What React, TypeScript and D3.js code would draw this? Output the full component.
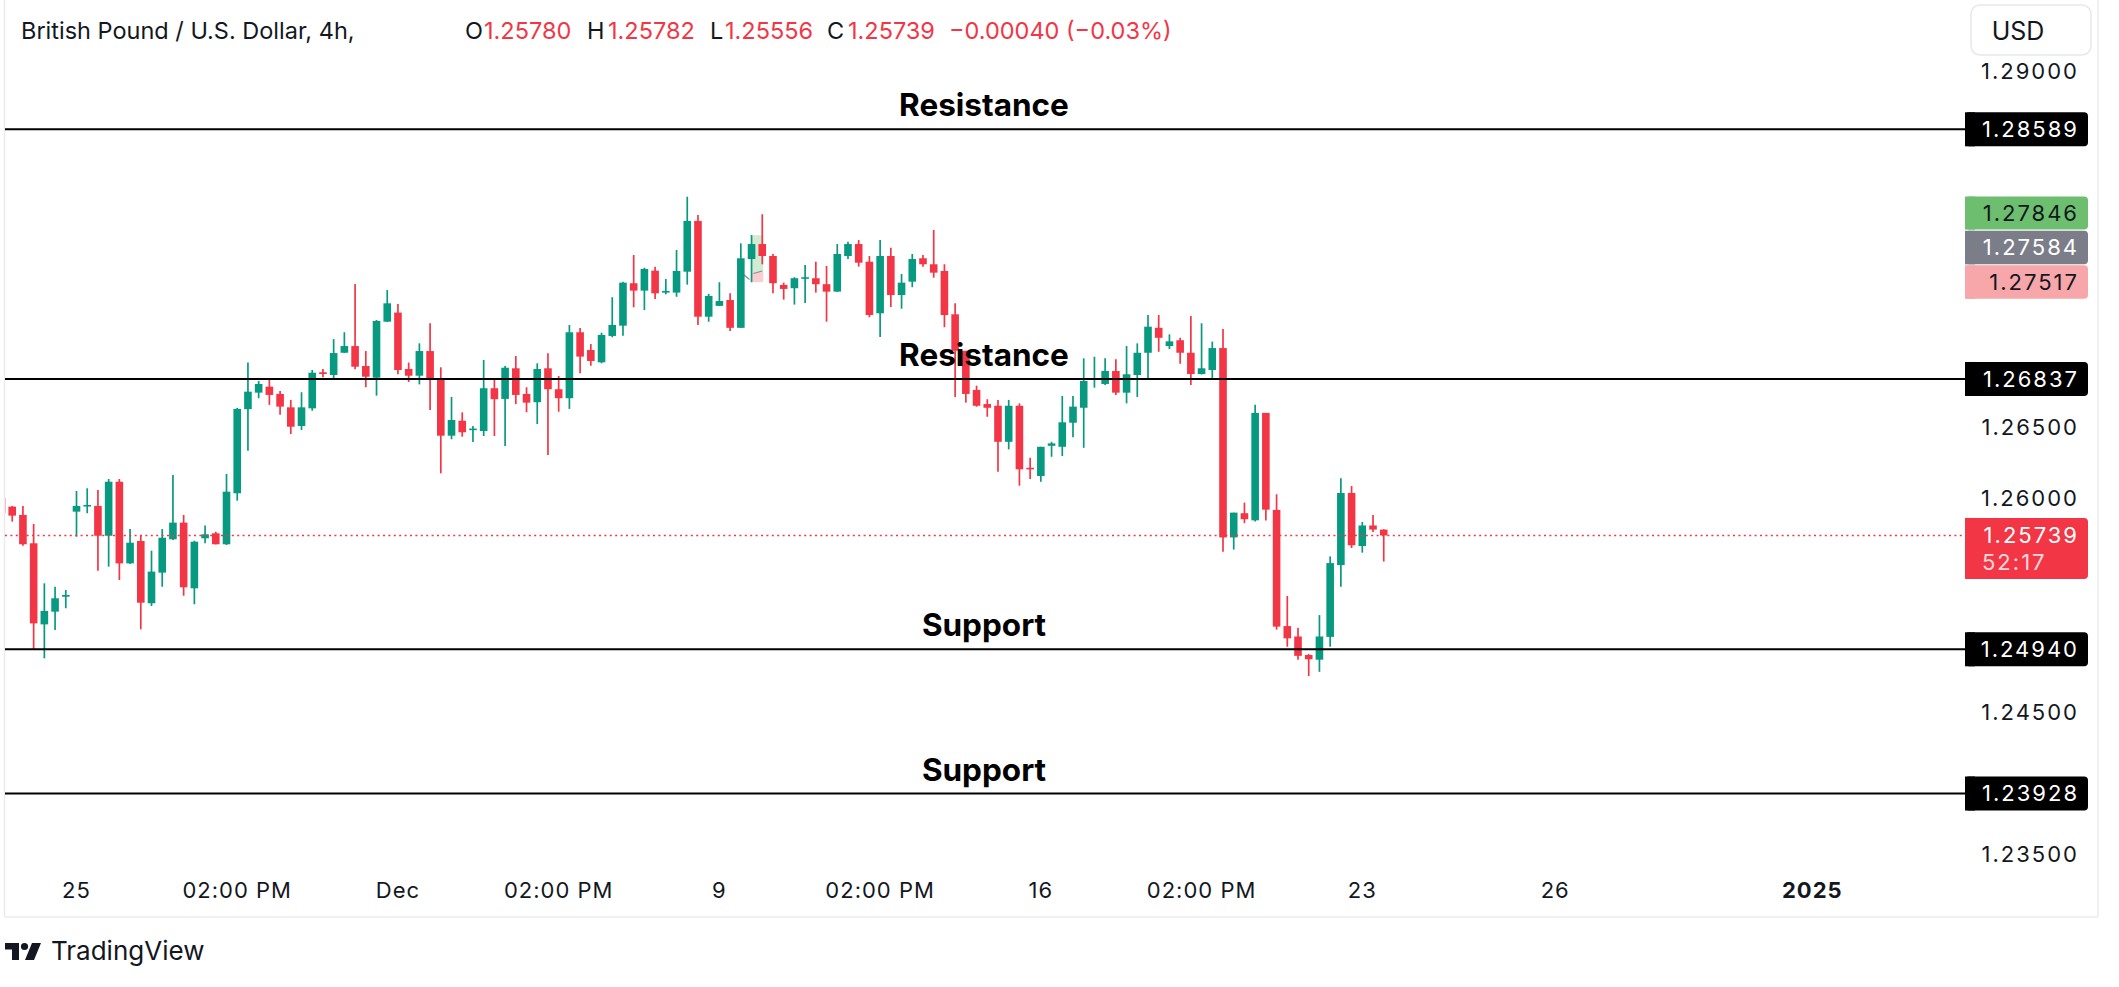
import React from 'react'
import * as d3 from 'd3'

// GBP/USD 4h candles, first candle index is -7 (index 0 = first bar of Nov 25)
const firstIndex = -7
const opens = [
  1.26002, 1.25941, 1.25883, 1.25684, 1.25115, 1.25204, 1.25309,
  1.25906, 1.25946, 1.25946, 1.25737, 1.26116, 1.25543, 1.257, 1.25263, 1.25478, 1.25712,
  1.25829, 1.25368, 1.25719, 1.25754, 1.25677, 1.26035, 1.26625, 1.26741, 1.26783, 1.26732,
  1.26638, 1.26507, 1.26631, 1.26884, 1.26865, 1.27021, 1.27068, 1.26928, 1.26846, 1.27239,
  1.27303, 1.26907, 1.2686, 1.27033, 1.26839, 1.26439, 1.26544, 1.26479, 1.26472, 1.26772,
  1.26697, 1.26912, 1.26732, 1.26674, 1.26912, 1.26765, 1.26702, 1.27165, 1.2704, 1.26954,
  1.27139, 1.27211, 1.27509, 1.27457, 1.27597, 1.27443, 1.27443, 1.2759, 1.27946, 1.27274,
  1.2735, 1.27391, 1.27196, 1.27679, 1.27784, 1.277, 1.27497, 1.27474, 1.27541, 1.27544,
  1.27502, 1.2745, 1.277, 1.27784, 1.2766, 1.27298, 1.277, 1.27426, 1.2752, 1.27684,
  1.27642, 1.27595, 1.27291, 1.27035, 1.2676, 1.26661, 1.26649, 1.26396, 1.26649, 1.26214,
  1.26156, 1.26368, 1.26361, 1.2653, 1.26635, 1.26835, 1.26802, 1.26893, 1.26741, 1.26865,
  1.27021, 1.27196, 1.27068, 1.27109, 1.27021, 1.26872, 1.269, 1.27054, 1.25725, 1.25895,
  1.25845, 1.26599, 1.25918, 1.25103, 1.2503, 1.249, 1.24867, 1.25027, 1.25531, 1.26037,
  1.25665, 1.25809, 1.2578,
]
const highs = [
  1.26023, 1.25946, 1.25946, 1.2582, 1.25403, 1.25379, 1.25356,
  1.26051, 1.2607, 1.26058, 1.26135, 1.26135, 1.25784, 1.25735, 1.25632, 1.25784, 1.26163,
  1.25883, 1.25702, 1.25808, 1.25765, 1.26171, 1.26634, 1.26952, 1.26823, 1.2683, 1.26753,
  1.2669, 1.26744, 1.269, 1.26907, 1.27117, 1.27165, 1.27503, 1.27033, 1.27251, 1.27461,
  1.27363, 1.26952, 1.27087, 1.27228, 1.26919, 1.26711, 1.26603, 1.26507, 1.2697, 1.2683,
  1.26928, 1.26998, 1.26779, 1.26947, 1.27017, 1.26858, 1.27216, 1.27195, 1.27082, 1.27162,
  1.27411, 1.2752, 1.27707, 1.27618, 1.27625, 1.27539, 1.27742, 1.28116, 1.27988, 1.27434,
  1.27516, 1.27439, 1.27789, 1.27847, 1.27993, 1.27714, 1.27513, 1.27551, 1.27637, 1.2766,
  1.2763, 1.27784, 1.278, 1.27812, 1.277, 1.27812, 1.27758, 1.27574, 1.27714, 1.27707,
  1.27883, 1.27642, 1.27368, 1.27035, 1.2679, 1.26695, 1.2669, 1.2669, 1.26666, 1.26284,
  1.26361, 1.26396, 1.26718, 1.26718, 1.26982, 1.26993, 1.26982, 1.26975, 1.27068, 1.27087,
  1.27286, 1.27286, 1.2715, 1.27126, 1.27279, 1.27228, 1.27099, 1.27188, 1.25899, 1.25969,
  1.26657, 1.26599, 1.26028, 1.25314, 1.25092, 1.24907, 1.2518, 1.25592, 1.2614, 1.26086,
  1.25834, 1.25883, 1.25782,
]
const lows = [
  1.25883, 1.25836, 1.25667, 1.24935, 1.24877, 1.25076, 1.25228,
  1.2573, 1.25895, 1.25492, 1.2552, 1.25426, 1.25539, 1.2508, 1.25244, 1.25379, 1.25707,
  1.25316, 1.25256, 1.25684, 1.25676, 1.25672, 1.25983, 1.26333, 1.26702, 1.26655, 1.26586,
  1.26451, 1.26479, 1.26614, 1.26849, 1.26842, 1.27019, 1.26905, 1.26779, 1.2672, 1.27237,
  1.2687, 1.26816, 1.26799, 1.2662, 1.26175, 1.26414, 1.26432, 1.26395, 1.26437, 1.26437,
  1.26367, 1.2666, 1.26603, 1.26521, 1.26303, 1.26607, 1.26627, 1.26877, 1.2693, 1.26947,
  1.2713, 1.27141, 1.2734, 1.27321, 1.27398, 1.27431, 1.27414, 1.27499, 1.27216, 1.27239,
  1.27349, 1.27173, 1.27195, 1.27516, 1.27642, 1.27439, 1.27394, 1.27359, 1.2737, 1.27443,
  1.27239, 1.27448, 1.27679, 1.27625, 1.2727, 1.27131, 1.27342, 1.2733, 1.27481, 1.27625,
  1.27548, 1.272, 1.26711, 1.26671, 1.26642, 1.26572, 1.26186, 1.26343, 1.26088, 1.26135,
  1.26116, 1.26291, 1.26296, 1.26428, 1.26354, 1.26776, 1.26795, 1.26725, 1.26666, 1.26711,
  1.26842, 1.27028, 1.27047, 1.26944, 1.26795, 1.26868, 1.26835, 1.25625, 1.2564, 1.25825,
  1.25836, 1.25843, 1.25078, 1.24958, 1.24867, 1.24752, 1.24782, 1.24958, 1.25379, 1.25651,
  1.25618, 1.25763, 1.25556,
]
const closes = [
  1.25897, 1.25878, 1.25677, 1.25122, 1.25209, 1.25298, 1.25321,
  1.25946, 1.25953, 1.25737, 1.26116, 1.25543, 1.25688, 1.25267, 1.25485, 1.25723, 1.25829,
  1.25375, 1.25695, 1.25747, 1.25677, 1.26046, 1.26627, 1.26748, 1.26802, 1.26725, 1.26643,
  1.26502, 1.26638, 1.26881, 1.26872, 1.27019, 1.27068, 1.26923, 1.26853, 1.27244, 1.27368,
  1.269, 1.2686, 1.27033, 1.26837, 1.26439, 1.26549, 1.26463, 1.26489, 1.26772, 1.26695,
  1.26916, 1.26725, 1.26671, 1.26907, 1.26765, 1.26702, 1.27165, 1.26994, 1.26963, 1.27146,
  1.27216, 1.27513, 1.27457, 1.27609, 1.27438, 1.27455, 1.27595, 1.27946, 1.27274, 1.2742,
  1.27384, 1.27196, 1.27684, 1.27784, 1.277, 1.27509, 1.27469, 1.27544, 1.27551, 1.27502,
  1.2745, 1.27714, 1.27784, 1.27653, 1.27286, 1.277, 1.27426, 1.27513, 1.27679, 1.27642,
  1.27583, 1.27286, 1.27035, 1.26732, 1.26649, 1.26635, 1.26396, 1.26649, 1.26203, 1.26203,
  1.26361, 1.26385, 1.26533, 1.26643, 1.26823, 1.26842, 1.26893, 1.26741, 1.2687, 1.27021,
  1.27204, 1.27126, 1.27101, 1.27021, 1.26872, 1.26912, 1.27054, 1.25725, 1.25899, 1.25853,
  1.26599, 1.2592, 1.25099, 1.25017, 1.24894, 1.2487, 1.2503, 1.25545, 1.26037, 1.2567,
  1.25809, 1.2578, 1.25739,
]

const priceTicks = [1.29, 1.285, 1.28, 1.275, 1.27, 1.265, 1.26, 1.255, 1.25, 1.245, 1.24, 1.235]
const timeTickIndex = [0, 15, 30, 45, 60, 75, 90, 105, 120, 138, 162]
const timeTickLabels = ['25', '02:00 PM', 'Dec', '02:00 PM', '9', '02:00 PM', '16', '02:00 PM', '23', '26', '2025']

const levelPrices = [1.28589, 1.26837, 1.2494, 1.23928]
const levelNames = ['Resistance', 'Resistance', 'Support', 'Support']

// long position drawing: target, entry, stop
const positionIndex = 63
const positionPrices = [1.27846, 1.27584, 1.27517]

const lastPrice = 1.25739
const countdown = '52:17'
const legendKeys = ['O', 'H', 'L', 'C']
const legendValues = ['1.25780', '1.25782', '1.25556', '1.25739']
const legendChange = '\u22120.00040 (\u22120.03%)'

const GREEN = '#089981'
const RED = '#F23645'
const INK = '#131722'
const FONT = "Inter, 'Noto Sans', sans-serif"

const App = () => {
  const width = 2119
  const height = 987
  const plotLeft = 5
  const plotRight = 1965
  const plotBottom = 870
  const axisX = 2079

  const x = d3.scaleLinear().domain([0, 120]).range([76.5, 1362.3])
  const y = d3.scaleLinear().domain([1.235, 1.29]).range([854.5, 70.75])

  const candles = opens.map((o, k) => ({ i: firstIndex + k, o, h: highs[k], l: lows[k], c: closes[k] }))
  const bodyW = 7.6

  // stacked labels of the position tool (pushed apart like TradingView does)
  const posColors = ['#6DBF6F', '#7B7E89', '#F7A6A9']
  const posText = [INK, '#FFFFFF', INK]
  const boxH = 34
  const posCenters: number[] = []
  for (let k = positionPrices.length - 1; k >= 0; k--) {
    let c = y(positionPrices[k])
    if (k < positionPrices.length - 1) c = Math.min(c, posCenters[k + 1] - boxH - 0.5)
    posCenters[k] = c
  }

  // boxes on the price scale; plain tick labels hidden underneath them are skipped
  const lastBoxCenter = y(lastPrice) + 13
  const boxSpans = [
    ...levelPrices.map((p) => [y(p), boxH]),
    ...posCenters.map((c) => [c, boxH]),
    [lastBoxCenter, 61],
  ]
  const visibleTicks = priceTicks.filter((p) =>
    boxSpans.every(([c, h]) => Math.abs(y(p) - c) > h / 2 + 8))

  const fmt = (p: number) => p.toFixed(5)

  const axisBox = (cy: number, fill: string, key: string, h = boxH) => (
    <g key={key}>
      <rect x={plotRight} y={cy - h / 2} width={123} height={h} rx={4} fill={fill} />
      <rect x={plotRight} y={cy - h / 2} width={10} height={h} fill={fill} />
    </g>
  )

  const priceTextStyle = { fontFamily: FONT, fontSize: 22, letterSpacing: 2 }

  return (
    <svg width={width} height={height} style={{ position: 'absolute', left: 0, top: 0, background: '#fff' }}>
      <defs>
        <clipPath id="plot">
          <rect x={plotLeft} y={0} width={plotRight - plotLeft} height={plotBottom} />
        </clipPath>
      </defs>
      <rect x={0} y={0} width={width} height={height} fill="#fff" />

      {/* frame */}
      <line x1={4.5} x2={4.5} y1={0} y2={917} stroke="#E9EBF0" strokeWidth={1.5} />
      <line x1={4.5} x2={2098} y1={917} y2={917} stroke="#E9EBF0" strokeWidth={1.5} />
      <line x1={2098} x2={2098} y1={0} y2={917} stroke="#EEF0F4" strokeWidth={2} />

      {/* price tick labels */}
      {visibleTicks.map((p) => (
        <text key={p} x={axisX} y={y(p)} dy="0.36em" textAnchor="end" fill={INK} style={priceTextStyle}>
          {fmt(p)}
        </text>
      ))}

      <g clipPath="url(#plot)">
        {/* position tool */}
        <rect x={x(positionIndex) - 0.5} width={x(positionIndex + 1) - x(positionIndex) + 1.5}
          y={y(positionPrices[0])} height={y(positionPrices[1]) - y(positionPrices[0])} fill="rgba(76,175,80,0.25)" />
        <rect x={x(positionIndex) - 0.5} width={x(positionIndex + 1) - x(positionIndex) + 1.5}
          y={y(positionPrices[1])} height={y(positionPrices[2]) - y(positionPrices[1])} fill="rgba(242,54,69,0.25)" />
        <polyline points={`${x(positionIndex) - 8},${y(positionPrices[1]) + 2} ${x(positionIndex) - 2},${y(positionPrices[1]) + 7}`}
          fill="none" stroke="#8A8D96" strokeWidth={1.2} />
        <polyline points={`${x(positionIndex) + 2},${y(positionPrices[1]) + 1} ${x(positionIndex + 1)},${y(positionPrices[1]) - 1.5}`}
          fill="none" stroke="#8A8D96" strokeWidth={1.2} />

        {/* candles */}
        {candles.map((d) => {
          const col = d.c >= d.o ? GREEN : RED
          const cx = x(d.i)
          const top = y(Math.max(d.o, d.c))
          const bot = y(Math.min(d.o, d.c))
          return (
            <g key={d.i}>
              <line x1={cx} x2={cx} y1={y(d.h)} y2={y(d.l)} stroke={col} strokeWidth={1.7} />
              <rect x={cx - bodyW / 2} width={bodyW} y={top} height={Math.max(1.6, bot - top)} fill={col} />
            </g>
          )
        })}

        {/* last price line */}
        <line x1={plotLeft} x2={plotRight} y1={y(lastPrice)} y2={y(lastPrice)} stroke={RED}
          strokeWidth={1.5} strokeDasharray="2 3.4" />

        {/* support / resistance */}
        {levelPrices.map((p, k) => (
          <g key={'lv' + k}>
            <line x1={plotLeft} x2={plotRight} y1={y(p)} y2={y(p)} stroke="#000" strokeWidth={2} />
            <text x={984} y={y(p) - 13} textAnchor="middle" fill="#000"
              style={{ fontFamily: FONT, fontSize: 31.5, fontWeight: 700 }}>
              {levelNames[k]}
            </text>
          </g>
        ))}
      </g>

      {/* axis boxes for levels */}
      {levelPrices.map((p, k) => (
        <g key={'lb' + k}>
          {axisBox(y(p), '#000', 'b' + k)}
          <text x={axisX} y={y(p)} dy="0.36em" textAnchor="end" fill="#fff" style={priceTextStyle}>{fmt(p)}</text>
        </g>
      ))}

      {/* position tool boxes */}
      {positionPrices.map((p, k) => (
        <g key={'pb' + k}>
          {axisBox(posCenters[k], posColors[k], 'p' + k, k === 0 ? 33 : 33.5)}
          <text x={axisX} y={posCenters[k]} dy="0.36em" textAnchor="end" fill={posText[k]} style={priceTextStyle}>{fmt(p)}</text>
        </g>
      ))}

      {/* last price box */}
      {axisBox(lastBoxCenter, RED, 'last', 61)}
      <text x={axisX} y={y(lastPrice)} dy="0.36em" textAnchor="end" fill="#fff" style={priceTextStyle}>{fmt(lastPrice)}</text>
      <text x={1982} y={y(lastPrice) + 27} dy="0.36em" textAnchor="start" fill="#FDD9DC" style={priceTextStyle}>{countdown}</text>

      {/* currency button */}
      <rect x={1971} y={5} width={120} height={50} rx={9} fill="#fff" stroke="#E6E8EE" strokeWidth={1.5} />
      <text x={2018} y={39.5} textAnchor="middle" fill={INK} style={{ fontFamily: FONT, fontSize: 25 }}>USD</text>

      {/* time axis */}
      {timeTickIndex.map((i, k) => (
        <text key={'t' + k} x={x(i)} y={898} textAnchor="middle" fill={INK}
          style={{ fontFamily: FONT, fontSize: 22, letterSpacing: 1,
            fontWeight: timeTickLabels[k] === '2025' ? 700 : 400 }}>
          {timeTickLabels[k]}
        </text>
      ))}

      {/* legend */}
      <g style={{ fontFamily: FONT, fontSize: 23.5 }}>
        <text x={21} y={39} fill={INK}>British Pound / U.S. Dollar, 4h,</text>
        {legendKeys.map((key, k) => {
          const kx = [465, 587, 710, 827][k]
          const vx = [484, 608, 725, 848][k]
          return (
            <g key={key}>
              <text x={kx} y={39} fill={INK}>{key}</text>
              <text x={vx} y={39} fill={RED}>{legendValues[k]}</text>
            </g>
          )
        })}
        <text x={949} y={39} fill={RED}>{legendChange}</text>
      </g>

      {/* TradingView logo */}
      <g fill={INK}>
        <path d="M5 943 H19 V960 H12 V949.5 H5 Z" />
        <circle cx={24.5} cy={946.5} r={3.6} />
        <path d="M32 943 H41 L34 960 H25 Z" />
      </g>
      <text x={51} y={960} fill={INK} style={{ fontFamily: FONT, fontSize: 26 }}>TradingView</text>
    </svg>
  )
}

export default App
